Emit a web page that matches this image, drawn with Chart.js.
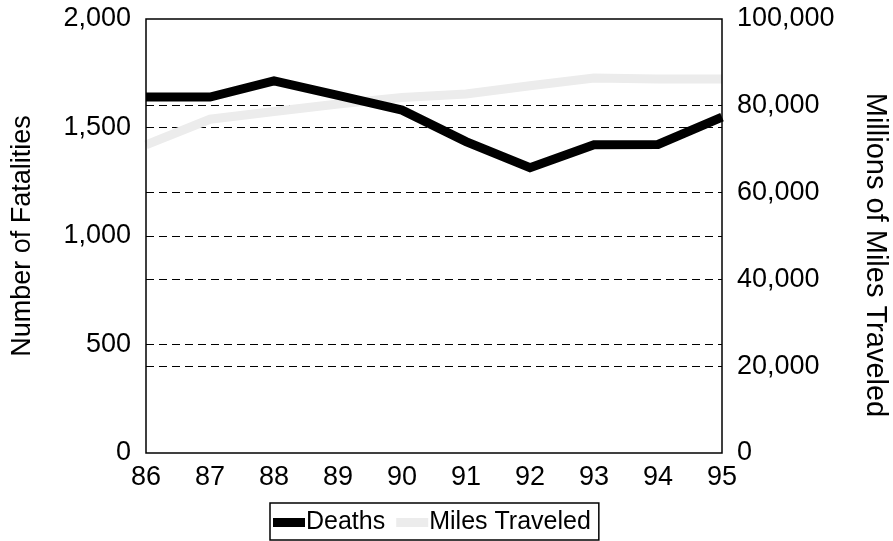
<!DOCTYPE html>
<html>
<head>
<meta charset="utf-8">
<script src="https://cdn.jsdelivr.net/npm/chart.js@4.4.1/dist/chart.umd.min.js"></script>
<style>
	html, body { margin: 0; padding: 0; background: #fff; }
	canvas { display: block; }
</style>
</head>
<body>
<canvas id="chart" width="893" height="541"></canvas>
<script>
const years = ['86', '87', '88', '89', '90', '91', '92', '93', '94', '95'];
const deaths = [1640, 1640, 1715, 1648, 1580, 1435, 1315, 1420, 1422, 1548];
const milesTraveled = [71000, 76900, 78700, 80400, 81900, 82700, 84600, 86400, 86200, 86200];
const seriesNames = ['Deaths', 'Miles Traveled'];
const seriesColors = ['#000000', '#ececec'];

const FONT = "'Liberation Sans', Arial, Helvetica, sans-serif";

// frame round the plot
const framePlugin = {
	id: 'frame',
	afterDatasetsDraw(chart) {
		const { ctx, chartArea: a } = chart;
		ctx.save();
		ctx.strokeStyle = '#000';
		ctx.lineWidth = 1.5;
		ctx.strokeRect(a.left, a.top, a.right - a.left, a.bottom - a.top);
		ctx.restore();
	}
};

// the right title sits a bit lower than the plot's middle in the original;
// nudge the box after pixels are configured so ticks stay put
const rightTitleShift = {
	id: 'rightTitleShift',
	afterLayout(chart) {
		const s = chart.scales.y2;
		s.top += 19;
		s.bottom += 19;
	}
};

// boxed legend under the axis, swatch tight against its label
const boxLegendPlugin = {
	id: 'boxLegend',
	afterDraw(chart) {
		const { ctx, chartArea: a } = chart;
		const sets = chart.data.datasets;
		const swatch = 32, padL = 3, padR = 8, gapText = 1, gapItem = 11;
		ctx.save();
		ctx.font = `25px ${FONT}`;
		const widths = sets.map(ds => ctx.measureText(ds.label).width);
		let total = padL + padR;
		widths.forEach((w, i) => {
			total += swatch + gapText + w + (i < widths.length - 1 ? gapItem : 0);
		});
		const top = a.bottom + 50, h = 37;
		const left = Math.round((a.left + a.right) / 2 - total / 2);
		const mid = top + h / 2 + 1;

		ctx.strokeStyle = '#000';
		ctx.lineWidth = 1.5;
		ctx.strokeRect(left, top, total, h);

		let x = left + padL;
		sets.forEach((ds, i) => {
			ctx.fillStyle = ds.borderColor;
			ctx.fillRect(x, mid - 4.5, swatch, 9);
			x += swatch + gapText;
			ctx.fillStyle = '#000';
			ctx.textAlign = 'left';
			ctx.textBaseline = 'middle';
			ctx.fillText(ds.label, x, mid);
			x += widths[i] + gapItem;
		});
		ctx.restore();
	}
};

const dashedGrid = (skip) => ({
	drawTicks: false,
	lineWidth: 1,
	color: ctx => skip.includes(ctx.tick && ctx.tick.value) ? 'rgba(0,0,0,0)' : '#000'
});

// fixed axis box, no extra room for the end labels
const fixWidth = w => s => {
	s.width = w;
	s.paddingTop = 0;
	s.paddingBottom = 0;
};

new Chart(document.getElementById('chart').getContext('2d'), {
	type: 'line',
	data: {
		labels: years,
		datasets: [
			{
				label: seriesNames[0],
				data: deaths,
				yAxisID: 'y',
				borderColor: seriesColors[0],
				backgroundColor: seriesColors[0],
				borderWidth: 9,
				pointRadius: 0,
				tension: 0
			},
			{
				label: seriesNames[1],
				data: milesTraveled,
				yAxisID: 'y2',
				borderColor: seriesColors[1],
				backgroundColor: seriesColors[1],
				borderWidth: 9,
				pointRadius: 0,
				tension: 0
			}
		]
	},
	options: {
		responsive: false,
		animation: false,
		layout: {
			padding: { top: 19, left: 0, right: 0, bottom: 48 }
		},
		scales: {
			x: {
				afterFit: s => {
					s.height = 40;
					s.paddingLeft = 0;
					s.paddingRight = 0;
				},
				grid: { display: false, drawTicks: false },
				border: { display: false },
				ticks: {
					color: '#000',
					padding: 8,
					maxRotation: 0,
					autoSkip: false,
					font: { family: FONT, size: 27 }
				}
			},
			y: {
				position: 'left',
				min: 0,
				max: 2000,
				afterFit: fixWidth(146),
				grid: dashedGrid([0, 2000]),
				border: { display: false, dash: [8, 5] },
				ticks: {
					stepSize: 500,
					color: '#000',
					padding: 15,
					font: { family: FONT, size: 27 },
					callback: v => v.toLocaleString('en-US')
				},
				title: {
					display: true,
					text: 'Number of Fatalities',
					color: '#000',
					padding: { top: 9, bottom: 0 },
					font: { family: FONT, size: 27, lineHeight: 1 }
				}
			},
			y2: {
				position: 'right',
				min: 0,
				max: 100000,
				afterFit: fixWidth(171),
				grid: dashedGrid([0, 100000]),
				border: { display: false, dash: [8, 5] },
				ticks: {
					stepSize: 20000,
					color: '#000',
					padding: 15,
					font: { family: FONT, size: 27 },
					callback: v => v.toLocaleString('en-US')
				},
				title: {
					display: true,
					text: 'Millions of Miles Traveled',
					color: '#000',
					padding: { top: 4, bottom: 0 },
					font: { family: FONT, size: 29, lineHeight: 1 }
				}
			}
		},
		plugins: {
			legend: { display: false },
			tooltip: { enabled: false }
		}
	},
	plugins: [framePlugin, rightTitleShift, boxLegendPlugin]
});
</script>
</body>
</html>
